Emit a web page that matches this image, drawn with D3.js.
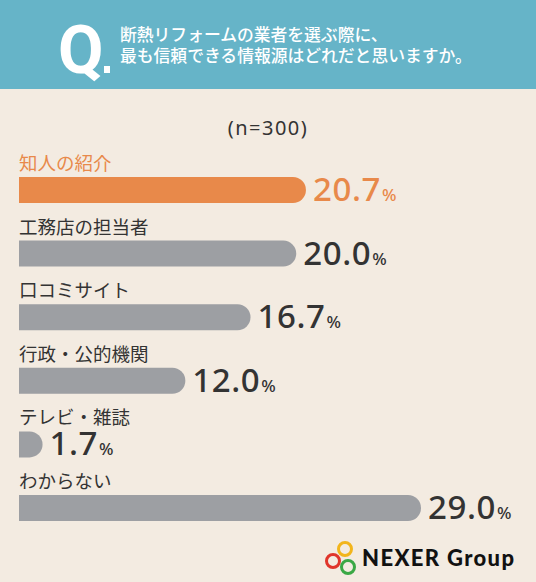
<!DOCTYPE html>
<html><head><meta charset="utf-8">
<script src="https://cdn.jsdelivr.net/npm/d3@7"></script>
<style>html,body{margin:0;padding:0;background:#f3ebe1;}svg{display:block;}</style>
</head><body>
<svg id="c" width="536" height="582"></svg>
<script>
const categories = ["知人の紹介","工務店の担当者","口コミサイト","行政・公的機関","テレビ・雑誌","わからない"];
const values = [20.7, 20.0, 16.7, 12.0, 1.7, 29.0];
const highlight = [true, false, false, false, false, false];
const titleLines = ["断熱リフォームの業者を選ぶ際に、","最も信頼できる情報源はどれだと思いますか。"];
const sampleNote = "(n=300)";

const W = 536, H = 582;
const svg = d3.select("#c");
const jp = "'Noto Sans CJK JP','Noto Sans',sans-serif";
const numFont = "'Noto Sans','DejaVu Sans',sans-serif";
const orange = "#e8894a", gray = "#9d9fa3", ink = "#333333";

svg.append("rect").attr("width", W).attr("height", H).attr("fill", "#f3ebe1");
svg.append("rect").attr("width", W).attr("height", 89).attr("fill", "#66b4c8");
svg.append("text").attr("x", 58).attr("y", 73).attr("fill", "#fff")
  .attr("font-family", "'Roboto','Noto Sans',sans-serif").attr("font-weight", 700)
  .attr("font-size", 66).text("Q");
svg.append("rect").attr("x", 104).attr("y", 66).attr("width", 6).attr("height", 7).attr("fill", "#fff");
svg.append("g").selectAll("text").data(titleLines).join("text")
  .attr("x", 120).attr("y", (d, i) => 41 + i * 21)
  .attr("fill", "#fff").attr("font-family", jp).attr("font-weight", 500)
  .attr("font-size", 16.8).text(d => d);

svg.append("text").attr("x", 268).attr("y", 135).attr("text-anchor", "middle")
  .attr("fill", ink).attr("font-family", numFont).attr("font-size", 20)
  .attr("letter-spacing", 1.5).text(sampleNote);

const x0 = 19;
const x = d3.scaleLinear().domain([0, 29]).range([0, 402]);
const y = d3.scaleBand().domain(categories).range([177, 177 + 63.6 * 6]).paddingInner(0).paddingOuter(0);
const bh = 26;

const rows = svg.append("g").selectAll("g").data(categories).join("g")
  .attr("transform", d => `translate(0,${y(d)})`);

rows.append("text").attr("x", x0).attr("y", -7)
  .attr("fill", (d, i) => highlight[i] ? orange : ink)
  .attr("font-family", jp).attr("font-size", 18.5).text(d => d);

rows.append("path").attr("fill", (d, i) => highlight[i] ? orange : gray)
  .attr("d", (d, i) => {
    const w = x(values[i]); const r = bh / 2;
    const straight = Math.max(0, w - r);
    const p = d3.path();
    p.moveTo(x0, 0);
    p.lineTo(x0 + straight, 0);
    p.arc(x0 + straight, r, r, -Math.PI / 2, Math.PI / 2);
    p.lineTo(x0, bh);
    p.closePath();
    return p.toString();
  });

const vt = rows.append("text")
  .attr("x", (d, i) => x0 + x(values[i]) + 7).attr("y", 24)
  .attr("fill", (d, i) => highlight[i] ? orange : ink)
  .attr("font-family", numFont).attr("font-weight", 500);
vt.append("tspan").attr("font-size", 33).attr("letter-spacing", 0.6).text((d, i) => values[i].toFixed(1));
vt.append("tspan").attr("font-size", 17).attr("dx", 1).text("%");

// logo
const logo = svg.append("g");
const rings = [{cx: 345, cy: 549, c: "#f2b51c"}, {cx: 333, cy: 561, c: "#e0352b"}, {cx: 348, cy: 567, c: "#3aa845"}];
logo.selectAll("circle").data(rings).join("circle")
  .attr("cx", d => d.cx).attr("cy", d => d.cy).attr("r", 6.5)
  .attr("fill", "none").attr("stroke", d => d.c).attr("stroke-width", 3);
logo.append("text").attr("x", 362).attr("y", 566).attr("fill", "#111")
  .attr("font-family", "'Lato','Noto Sans',sans-serif").attr("font-weight", 900)
  .attr("font-size", 22).attr("textLength", 152).text("NEXER Group");
</script>
</body></html>
